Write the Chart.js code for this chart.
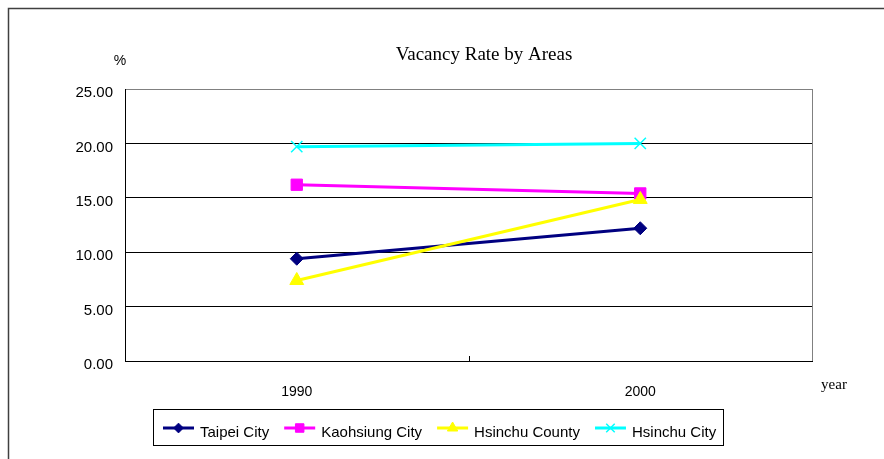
<!DOCTYPE html>
<html lang="en">
<head>
    <meta charset="UTF-8">
    <title>Vacancy Rate by Areas</title>
    <script src="https://cdn.jsdelivr.net/npm/chart.js"></script>
    <style>
        body { margin: 0; background: #fff; }
        .chart-box { position: relative; width: 884px; height: 459px; }
    </style>
</head>
<body>
    <div class="chart-box">
        <canvas id="vacancyChart" width="884" height="459"></canvas>
    </div>

    <script>
        // data
        const years = ['1990', '2000'];
        const taipeiCity = [9.4, 12.2];
        const kaohsiungCity = [16.2, 15.4];
        const hsinchuCounty = [7.4, 14.85];
        const hsinchuCity = [19.7, 20.0];
        const seriesNames = ['Taipei City', 'Kaohsiung City', 'Hsinchu County', 'Hsinchu City'];
        const yMin = 0, yMax = 25, yStep = 5;

        const sans = "'Liberation Sans', Arial, sans-serif";
        const serif = "'Liberation Serif', 'Times New Roman', serif";

        // later series are drawn on top, like in the original sheet
        function makeSet(idx, values, color, style, radius, bw) {
            return {
                label: seriesNames[idx],
                data: values,
                order: 10 - idx,
                borderColor: color,
                backgroundColor: color,
                borderWidth: 3,
                pointStyle: style,
                pointRadius: radius,
                pointBorderWidth: bw,
                pointBackgroundColor: color,
                pointBorderColor: color,
                tension: 0
            };
        }

        // frame, titles, inside tick and the custom legend
        const extras = {
            id: 'extras',
            beforeDraw(chart) {
                const c = chart.ctx;
                c.save();
                c.fillStyle = '#fff';
                c.fillRect(0, 0, chart.width, chart.height);
                c.restore();
            },
            afterDraw(chart) {
                const c = chart.ctx;
                const area = chart.chartArea;
                const xs = chart.scales.x;
                c.save();

                // outer frame
                c.strokeStyle = '#404040';
                c.lineWidth = 1.5;
                c.beginPath();
                c.moveTo(8.5, chart.height + 5);
                c.lineTo(8.5, 8.5);
                c.lineTo(chart.width + 5, 8.5);
                c.stroke();

                // right border of the plot
                c.strokeStyle = '#808080';
                c.lineWidth = 1;
                c.beginPath();
                c.moveTo(Math.round(area.right) + 0.5, area.top);
                c.lineTo(Math.round(area.right) + 0.5, area.bottom);
                c.stroke();

                // tick between the two categories, pointing inside
                const mid = Math.round((xs.getPixelForValue(0) + xs.getPixelForValue(1)) / 2) + 0.5;
                c.strokeStyle = '#000';
                c.beginPath();
                c.moveTo(mid, area.bottom);
                c.lineTo(mid, area.bottom - 5);
                c.stroke();

                // texts
                c.fillStyle = '#000';
                c.textBaseline = 'middle';
                c.textAlign = 'center';
                c.font = '19px ' + serif;
                c.fillText('Vacancy Rate by Areas', 484, 55);
                c.font = '14px ' + sans;
                c.fillText('%', 120, 61);
                c.font = '15px ' + serif;
                c.fillText('year', 834, 385);

                // legend box
                c.strokeStyle = '#000';
                c.lineWidth = 1;
                c.strokeRect(153.5, 409.5, 570, 36);
                c.font = '15px ' + sans;
                c.textAlign = 'left';
                let x = 163;
                const ly = 428;
                chart.data.datasets.forEach(ds => {
                    c.strokeStyle = ds.borderColor;
                    c.fillStyle = ds.backgroundColor;
                    c.lineWidth = 3;
                    c.beginPath();
                    c.moveTo(x, ly);
                    c.lineTo(x + 31, ly);
                    c.stroke();
                    c.lineWidth = ds.pointBorderWidth;
                    Chart.helpers.drawPoint(c, {
                        pointStyle: ds.pointStyle,
                        radius: ds.pointRadius * 0.75,
                        borderWidth: ds.pointBorderWidth,
                        rotation: 0
                    }, x + 15.5, ly);
                    c.fillStyle = '#000';
                    c.fillText(ds.label, x + 37, ly + 5);
                    x += 37 + c.measureText(ds.label).width + 15;
                });
                c.restore();
            }
        };

        const ctx = document.getElementById('vacancyChart').getContext('2d');
        new Chart(ctx, {
            type: 'line',
            data: {
                labels: years,
                datasets: [
                    makeSet(0, taipeiCity, '#000080', 'rectRot', 6.5, 1),
                    makeSet(1, kaohsiungCity, '#FF00FF', 'rect', 8, 1),
                    makeSet(2, hsinchuCounty, '#FFFF00', 'triangle', 8, 1),
                    makeSet(3, hsinchuCity, '#00FFFF', 'crossRot', 8, 1.5)
                ]
            },
            options: {
                responsive: false,
                animation: false,
                events: [],
                layout: {
                    padding: { top: 89, right: 72, bottom: 0, left: 0 }
                },
                plugins: {
                    legend: { display: false },
                    title: { display: false },
                    tooltip: { enabled: false }
                },
                scales: {
                    x: {
                        offset: true,
                        grid: { display: false },
                        border: { color: '#000', width: 1 },
                        ticks: {
                            color: '#000',
                            font: { family: sans, size: 14 },
                            padding: 15
                        },
                        afterFit: function(scale) { scale.height = 98; }
                    },
                    y: {
                        min: yMin,
                        max: yMax,
                        border: { color: '#000', width: 1 },
                        grid: {
                            drawTicks: false,
                            color: function(c) {
                                return c.tick.value === yMax ? '#808080' : '#000';
                            }
                        },
                        ticks: {
                            stepSize: yStep,
                            color: '#000',
                            padding: 12,
                            labelOffset: 4,
                            font: { family: sans, size: 15 },
                            callback: function(value) { return value.toFixed(2); }
                        },
                        afterFit: function(scale) { scale.width = 125; }
                    }
                }
            },
            plugins: [extras]
        });
    </script>
</body>
</html>
